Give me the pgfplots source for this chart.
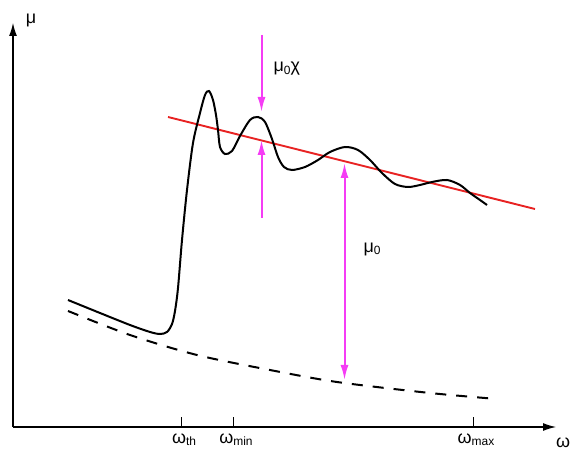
\documentclass[border=0pt]{standalone}
\usepackage{fontspec}
\setmainfont{Liberation Sans}
\usepackage{pgfplots}
\pgfplotsset{compat=1.18}
\usetikzlibrary{arrows.meta}
\definecolor{mag}{RGB}{245,60,245}
\definecolor{redl}{RGB}{232,35,35}
\newcommand{\lab}[2]{\fontsize{18}{18}\selectfont #1\fontsize{12}{12}\selectfont\raisebox{-0.35ex}{#2}}
\begin{document}
\begin{tikzpicture}
\begin{axis}[
  scale only axis, width=543bp, height=404bp,
  xmin=13, xmax=556, ymin=26, ymax=430,
  axis x line=bottom, axis y line=left,
  axis line style={line width=1.2pt, -{Latex[length=13bp,width=8bp]}},
  xtick={181,233,473},
  xticklabels={\lab{ω}{th},\lab{ω}{min},\lab{ω}{max}},
  ytick=\empty,
  tick align=inside, major tick length=10bp,
  tick style={line width=1pt, black},
  xticklabel style={yshift=-3bp, xshift=3bp},
  clip=false,
]
% dashed background
\addplot[black, line width=2bp, dash pattern=on 11bp off 10bp, smooth] coordinates {
(68,142) (130,118) (197,98) (270,83) (337,71) (430,60) (497,54)};
% red line
\addplot[redl, line width=1.9bp] coordinates {(168,336) (535,244)};
% solid curve
\addplot[black, line width=2bp, smooth, tension=0.5] coordinates {
(68,153) (100,140) (130,128) (150,121) (160,119) (167,121) (172,129) (175,142)
(178,165) (182,213) (187,263) (193,310) (200,340) (205,358) (209,362) (213,353)
(216,338) (218,323) (220,306) (225,299) (232,302) (240,317) (250,333) (258,336)
(265,331) (272,314) (278,296) (284,286) (292,283) (305,286) (318,293) (330,301)
(345,306) (358,303) (370,293) (382,280) (395,269) (408,266) (420,268) (432,271)
(447,273) (460,268) (470,260) (480,253) (487,248)};
% magenta arrows
\addplot[mag, line width=2bp, -{Latex[length=15bp,width=8bp]}] coordinates {(261.5,418) (261.5,341)};
\addplot[mag, line width=2bp, -{Latex[length=15bp,width=8bp]}] coordinates {(261.5,235) (261.5,313)};
\addplot[mag, line width=2bp, {Latex[length=15bp,width=8bp]}-{Latex[length=15bp,width=8bp]}] coordinates {(344.5,290) (344.5,73)};
% labels
\node[anchor=west] at (axis cs:270,384) {\lab{μ}{0}\fontsize{18}{18}\selectfont χ};
\node[anchor=west] at (axis cs:360,204) {\lab{μ}{0}};
\node at (axis cs:31,433) {\fontsize{18}{18}\selectfont μ};
\node at (axis cs:563,10) {\fontsize{18}{18}\selectfont ω};
\end{axis}
\pgfresetboundingbox
\path (-13bp,-26bp) rectangle (557bp,427bp);
\end{tikzpicture}
\end{document}
